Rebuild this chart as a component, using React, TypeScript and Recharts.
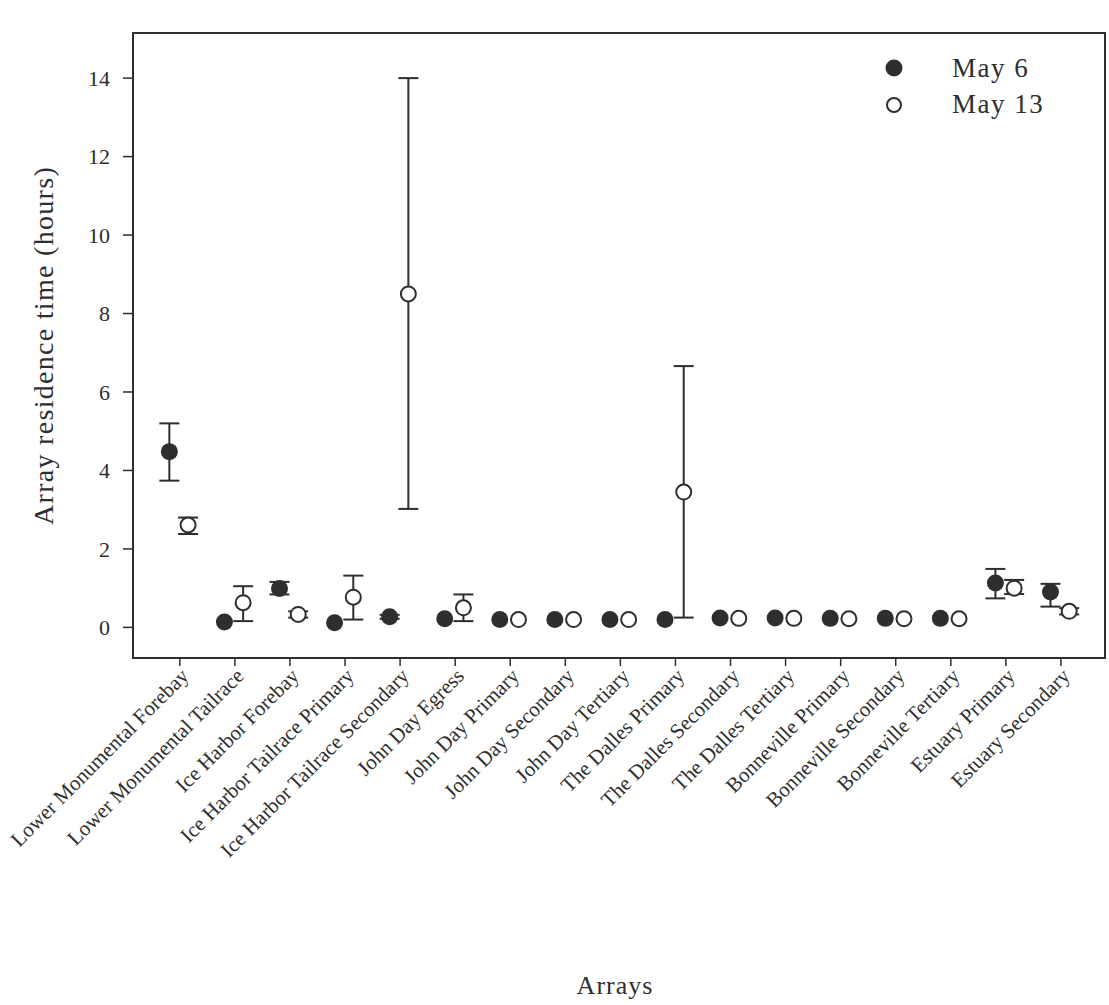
import { ScatterChart, Scatter, XAxis, YAxis, ErrorBar, ReferenceArea, Label } from "recharts";

const categories = [
  "Lower Monumental Forebay",
  "Lower Monumental Tailrace",
  "Ice Harbor Forebay",
  "Ice Harbor Tailrace Primary",
  "Ice Harbor Tailrace Secondary",
  "John Day Egress",
  "John Day Primary",
  "John Day Secondary",
  "John Day Tertiary",
  "The Dalles Primary",
  "The Dalles Secondary",
  "The Dalles Tertiary",
  "Bonneville Primary",
  "Bonneville Secondary",
  "Bonneville Tertiary",
  "Estuary Primary",
  "Estuary Secondary",
];

// May 6 (filled dots)
const may6Mean = [4.48, 0.14, 0.99, 0.12, 0.27, 0.22, 0.2, 0.2, 0.2, 0.2, 0.24, 0.24, 0.23, 0.23, 0.23, 1.13, 0.9];
const may6Low = [3.74, null, 0.84, null, 0.22, null, null, null, null, null, null, null, null, null, null, 0.74, 0.53];
const may6High = [5.2, null, 1.16, null, 0.32, null, null, null, null, null, null, null, null, null, null, 1.49, 1.11];

// May 13 (open dots)
const may13Mean = [2.61, 0.63, 0.33, 0.77, 8.5, 0.5, 0.2, 0.2, 0.2, 3.45, 0.23, 0.23, 0.22, 0.22, 0.22, 1.0, 0.41];
const may13Low = [2.38, 0.16, 0.25, 0.2, 3.02, 0.16, null, null, null, 0.25, null, null, null, null, null, 0.85, 0.33];
const may13High = [2.8, 1.05, 0.41, 1.32, 14.0, 0.84, null, null, null, 6.66, null, null, null, null, null, 1.21, 0.49];

const yTicks = [0, 2, 4, 6, 8, 10, 12, 14];
const seriesNames = ["May 6", "May 13"];

const FONT = "'Liberation Serif', 'Times New Roman', serif";
const INK = "#2e2e2e";
const X_DOMAIN: [number, number] = [-0.85, 16.8];
const Y_DOMAIN: [number, number] = [-0.78, 15.15];

function buildSeries(mean: number[], low: (number | null)[], high: (number | null)[], shift: number) {
  return mean.map((y, i) => ({
    x: i + shift,
    y,
    err: low[i] == null || high[i] == null ? null : [y - (low[i] as number), (high[i] as number) - y],
  }));
}

const may6Data = buildSeries(may6Mean, may6Low, may6High, -0.19);
const may13Data = buildSeries(may13Mean, may13Low, may13High, 0.15);

const FilledDot = (props: any) => <circle cx={props.cx} cy={props.cy} r={8.5} fill={INK} />;
const OpenDot = (props: any) => (
  <circle cx={props.cx} cy={props.cy} r={7.5} fill="#fff" stroke={INK} strokeWidth={2} />
);

const XTick = ({ x, y, payload }: any) => (
  <g transform={`translate(${x + 5},${y + 4})`}>
    <text x={0} y={0} dy="0.35em" textAnchor="end" transform="rotate(-45)" fontSize={21} fontFamily={FONT} fill={INK}>
      {categories[payload.value]}
    </text>
  </g>
);

// legend drawn beside the chart so it takes no room from the plot
const LegendBox = () => (
  <svg width={220} height={80} style={{ position: "absolute", left: 880, top: 52 }}>
    <circle cx={14} cy={16} r={8.5} fill={INK} />
    <text x={72} y={25} fontSize={27} letterSpacing={1.5} fontFamily={FONT} fill={INK}>
      {seriesNames[0]}
    </text>
    <circle cx={14} cy={53} r={7} fill="#fff" stroke={INK} strokeWidth={2} />
    <text x={72} y={61} fontSize={27} letterSpacing={1.5} fontFamily={FONT} fill={INK}>
      {seriesNames[1]}
    </text>
  </svg>
);

export default function App() {
  return (
    <div style={{ position: "absolute", left: 0, top: 0, width: 1109, height: 1005, background: "#fff" }}>
      <ScatterChart width={1109} height={1005} margin={{ top: 33, right: 4, left: 0, bottom: 0 }}>
        <ReferenceArea
          x1={X_DOMAIN[0]}
          x2={X_DOMAIN[1]}
          y1={Y_DOMAIN[0]}
          y2={Y_DOMAIN[1]}
          fill="none"
          stroke={INK}
          strokeWidth={2}
          fillOpacity={0}
        />
        <XAxis
          type="number"
          dataKey="x"
          domain={X_DOMAIN}
          ticks={categories.map((_, i) => i)}
          interval={0}
          tick={<XTick />}
          tickSize={8}
          tickLine={{ stroke: INK, strokeWidth: 1.5 }}
          axisLine={{ stroke: INK, strokeWidth: 2 }}
          height={347}
          allowDataOverflow
        >
          <Label
            content={({ viewBox }: any) => (
              <text
                x={viewBox.x + viewBox.width / 2 - 4}
                y={viewBox.y + 336}
                textAnchor="middle"
                fontSize={26}
                letterSpacing={1}
                fontFamily={FONT}
                fill={INK}
              >
                Arrays
              </text>
            )}
          />
        </XAxis>
        <YAxis
          type="number"
          dataKey="y"
          domain={Y_DOMAIN}
          ticks={yTicks}
          tickSize={10}
          tickMargin={13}
          tick={{ fontSize: 22, fontFamily: FONT, fill: INK }}
          tickLine={{ stroke: INK, strokeWidth: 1.5 }}
          axisLine={{ stroke: INK, strokeWidth: 2 }}
          width={133}
          allowDataOverflow
        >
          <Label
            content={({ viewBox }: any) => {
              const cx = viewBox.x + 43;
              const cy = viewBox.y + viewBox.height / 2;
              return (
                <text
                  x={cx}
                  y={cy}
                  textAnchor="middle"
                  dominantBaseline="central"
                  transform={`rotate(-90, ${cx}, ${cy})`}
                  fontSize={28}
                  letterSpacing={1.3}
                  fontFamily={FONT}
                  fill={INK}
                >
                  Array residence time (hours)
                </text>
              );
            }}
          />
        </YAxis>
        <Scatter name={seriesNames[0]} data={may6Data} shape={FilledDot} isAnimationActive={false}>
          <ErrorBar dataKey="err" direction="y" width={10} stroke={INK} strokeWidth={2} isAnimationActive={false} />
        </Scatter>
        <Scatter name={seriesNames[1]} data={may13Data} shape={OpenDot} isAnimationActive={false}>
          <ErrorBar dataKey="err" direction="y" width={10} stroke={INK} strokeWidth={2} isAnimationActive={false} />
        </Scatter>
      </ScatterChart>
      <LegendBox />
    </div>
  );
}
